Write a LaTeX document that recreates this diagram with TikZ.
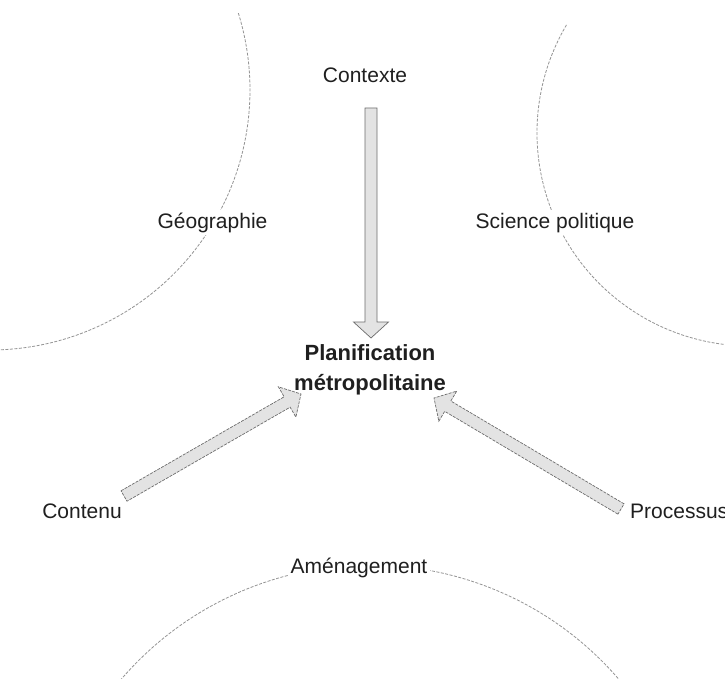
\documentclass[tikz,border=0pt]{standalone}
\usepackage{fontspec}
\setmainfont{Liberation Sans}
\usetikzlibrary{calc}
\newcommand\blockarrow[3]{%
  \coordinate (ba-hb) at ($(#2)!16pt!(#1)$);
  \draw[#3] ($(#1)!6pt!90:(#2)$) -- ($(ba-hb)!6pt!90:(#2)$) -- ($(ba-hb)!17.5pt!90:(#2)$) -- (#2)
    -- ($(ba-hb)!17.5pt!-90:(#2)$) -- ($(ba-hb)!6pt!-90:(#2)$) -- ($(#1)!6pt!-90:(#2)$) -- cycle;
}
\begin{document}
\begin{tikzpicture}[x=1pt,y=-1pt,
  lbl/.style={font=\fontsize{21}{25}\selectfont, text=black!88, inner sep=3pt},
  lblw/.style={lbl, fill=white},
  arcline/.style={draw=gray!85, dash pattern=on 3pt off 1.5pt, line width=0.8pt},
  blk/.style={fill=gray!22, draw=gray!85!black, line width=0.7pt, line join=miter},
  blkd/.style={blk, dash pattern=on 3pt off 1.2pt}]
\useasboundingbox (0,0) rectangle (725,679);
\clip (0,0) rectangle (725,679);
% discipline arcs
\draw[arcline] (-10,90) ++(-17.2:260) arc[start angle=-17.2, end angle=88, radius=260];
\draw[arcline] (750,133) ++(210.5:213) arc[start angle=210.5, end angle=92, radius=213];
\draw[arcline] (370,893) ++(218:328) arc[start angle=218, end angle=323, radius=328];
% labels
\node[lblw, anchor=base] (geo) at (212.5,228) {Géographie};
\node[lblw, anchor=base] (sci) at (555,228) {Science politique};
\node[lblw, anchor=base] (amen) at (359,573) {Aménagement};
\node[lbl, anchor=base] (ctx) at (365,83) {Contexte};
\node[lbl, anchor=base] (cont) at (82,518) {Contenu};
\node[lbl, anchor=base west, inner sep=0pt] (proc) at (630,518) {Processus};
\node[lbl, font=\fontsize{22}{30}\selectfont\bfseries, align=center, inner sep=0pt] (plan) at (370,369.5) {Planification\\métropolitaine};
% block arrows
\coordinate (ctxA) at (371,108);
\coordinate (ctxB) at (371,338);
\coordinate (contA) at (124,496);
\coordinate (contB) at (301,394);
\coordinate (procA) at (621,509);
\coordinate (procB) at (434,398);
\blockarrow{ctxA}{ctxB}{blk}
\blockarrow{contA}{contB}{blkd}
\blockarrow{procA}{procB}{blkd}
\end{tikzpicture}
\end{document}
